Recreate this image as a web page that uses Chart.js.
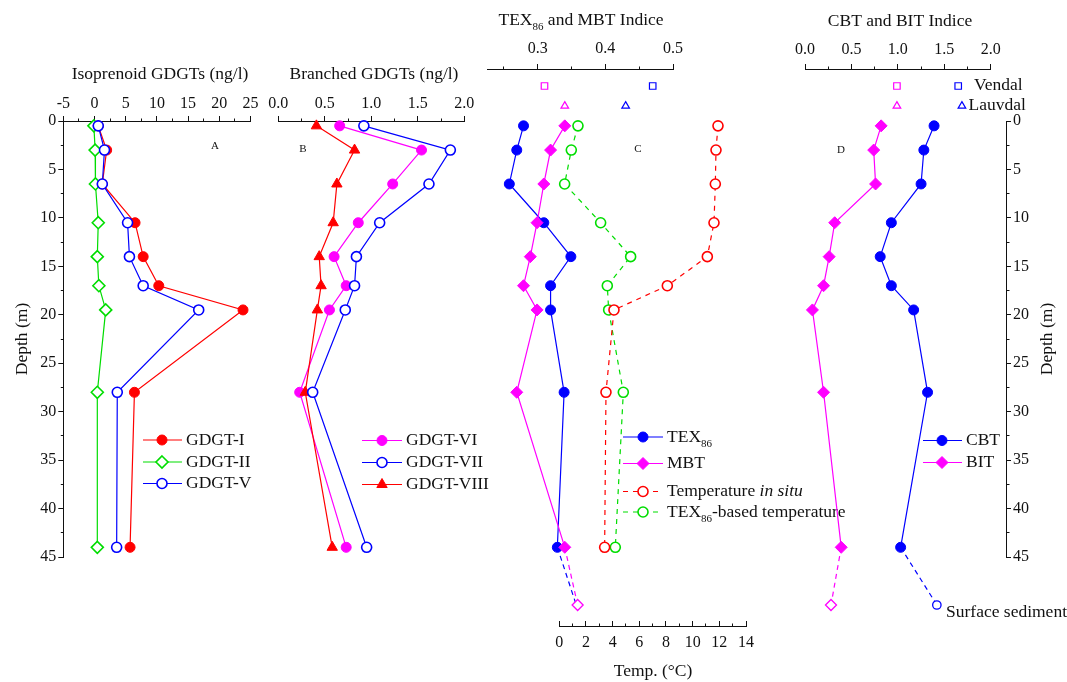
<!DOCTYPE html>
<html>
<head>
<meta charset="utf-8">
<style>
html,body{margin:0;padding:0;background:#fff;}
#wrap{position:relative;width:1067px;height:682px;overflow:hidden;background:#fff;}
#wrap canvas{position:absolute;left:0;top:0;}
</style>
<script src="https://cdn.jsdelivr.net/npm/chart.js@4.4.1/dist/chart.umd.min.js"></script>
</head>
<body>
<div id="wrap">
<canvas id="cA" width="1067" height="682"></canvas>
<canvas id="cB" width="1067" height="682"></canvas>
<canvas id="cT" width="1067" height="682"></canvas>
<canvas id="cTt" width="1067" height="682"></canvas>
<canvas id="cC" width="1067" height="682"></canvas>
<canvas id="cD" width="1067" height="682"></canvas>
<canvas id="cR" width="1067" height="682"></canvas>
</div>
<script>
// ---------------- DATA ----------------
const depth = [0.5, 3, 6.5, 10.5, 14, 17, 19.5, 28, 44];           // m
// Isoprenoid GDGTs (ng/l)
const gdgtI   = [0.6, 1.95, 1.25, 6.5, 7.8, 10.3, 23.8, 6.4, 5.7];
const gdgtII  = [-0.1, 0.1, 0.15, 0.6, 0.45, 0.7, 1.8, 0.45, 0.45];
const gdgtV   = [0.6, 1.6, 1.25, 5.3, 5.6, 7.8, 16.7, 3.65, 3.55];
// Branched GDGTs (ng/l)
const gdgtVI   = [0.66, 1.54, 1.23, 0.86, 0.60, 0.73, 0.55, 0.23, 0.73];
const gdgtVII  = [0.92, 1.85, 1.62, 1.09, 0.84, 0.82, 0.72, 0.37, 0.95];
const gdgtVIII = [0.41, 0.82, 0.63, 0.59, 0.44, 0.46, 0.42, 0.29, 0.58];
// Indices
const tex86 = [0.279, 0.269, 0.258, 0.309, 0.349, 0.319, 0.319, 0.339, 0.329];
const mbt   = [0.340, 0.319, 0.309, 0.299, 0.289, 0.279, 0.299, 0.269, 0.340];
const cbt   = [1.39, 1.28, 1.25, 0.93, 0.81, 0.93, 1.17, 1.32, 1.03];
const bit   = [0.82, 0.74, 0.76, 0.32, 0.26, 0.20, 0.08, 0.20, 0.39];
// Temperatures (°C)
const tempInSitu = [11.9, 11.75, 11.7, 11.6, 11.1, 8.1, 4.1, 3.5, 3.4];
const tempTex86  = [1.4, 0.9, 0.4, 3.1, 5.35, 3.6, 3.7, 4.8, 4.2];
// Surface sediment
const surfaceTex86 = 0.357, surfaceMbt = 0.359, surfaceCbt = 1.42, surfaceBit = 0.28;
// Reference sites
const siteNames = ['Vendal', 'Lauvdal'];
const siteTex86 = [0.47, 0.43];
const siteMbt   = [0.31, 0.34];
const siteCbt   = [1.65, 1.69];
const siteBit   = [0.99, 0.99];
// Tick labels
const isoTicks   = [-5, 0, 5, 10, 15, 20, 25];
const brTicks    = [0, 0.5, 1, 1.5, 2];
const texTicks   = [0.3, 0.4, 0.5];
const cbtTicks   = [0, 0.5, 1, 1.5, 2];
const tempTicks  = [0, 2, 4, 6, 8, 10, 12, 14];
const depthTicks = [0, 5, 10, 15, 20, 25, 30, 35, 40, 45];

// ---------------- LAYOUT / STYLE ----------------
const W = 1067, H = 682, BOX = 44;
const FONT = '"Liberation Serif","Times New Roman",serif';
const TXT = 17.5, TICK = 16;
const TOP0 = 121, BOT45 = 557, PXM = (BOT45 - TOP0) / 45;
const depthAt = px => (px - TOP0) / PXM;
const SURFACE_ROW = depthAt(605);
const SITE_ROWS = [depthAt(86), depthAt(106)];
const SITE_SHAPES = ['rect', 'triangle'];
const RED = '#ff0000', GREEN = '#00dd00', BLUE = '#0000ff', MAG = '#ff00ff', INK = '#111111';

function withMinor(major, min, max) {
  const h = (major[1] - major[0]) / 2;
  const out = major.map(v => ({value: v}));
  major.map(v => v - h).concat([major[major.length - 1] + h]).forEach(v => {
    if (v >= min - 1e-9 && v <= max + 1e-9) out.push({value: v, minor: true});
  });
  return out.sort((a, b) => a.value - b.value);
}
const boxFit = size => s => { if (s.isHorizontal()) s.height = size; else s.width = size; };

function axis(o) {
  const tks = withMinor(o.major, o.min, o.max);
  const outerFirst = o.position === 'top' || o.position === 'left';
  return {
    type: 'linear', position: o.position, min: o.min, max: o.max, reverse: !!o.reverse, bounds: 'data',
    afterBuildTicks: s => { s.ticks = tks.map(t => ({value: t.value, minor: !!t.minor})); },
    afterFit: boxFit(BOX),
    ticks: {
      autoSkip: false, maxRotation: 0, minRotation: 0, padding: o.pad, color: INK,
      font: {family: FONT, size: TICK},
      callback: (v, i, arr) => (o.noLabels || (arr[i] && arr[i].minor)) ? '' : o.fmt(v)
    },
    grid: {
      display: true, drawOnChartArea: false, drawTicks: o.drawTicks !== false,
      tickLength: 5, tickColor: INK, tickWidth: 1,
      tickBorderDash: c => (c.tick && c.tick.minor) ? [2.5, 2.5] : [],
      tickBorderDashOffset: c => (c.tick && c.tick.minor && outerFirst) ? 2.5 : 0
    },
    border: {display: true, color: INK, width: 1}
  };
}
function hiddenAxis(min, max, reverse) {
  return {type: 'linear', display: false, min, max, reverse: !!reverse, bounds: 'data', afterFit: boxFit(0)};
}

function pts(xs, ys) { return ys.map((y, i) => ({x: xs[i], y})); }
function series(label, xs, ys, color, shape, open, r, extra) {
  return Object.assign({
    label, data: pts(xs, ys), borderColor: color, backgroundColor: color, borderWidth: 1.2,
    pointStyle: shape, pointRadius: r, pointHoverRadius: r,
    pointBackgroundColor: open ? '#ffffff' : color, pointBorderColor: color,
    pointBorderWidth: open ? 1.6 : 1, tension: 0, fill: false, clip: false
  }, extra || {});
}
function tail(label, x0, y0, x1, y1, color, shape, r) {
  return {
    label, data: [{x: x0, y: y0}, {x: x1, y: y1}], borderColor: color, borderWidth: 1.2, borderDash: [5, 4],
    pointStyle: shape, pointRadius: [0, r], pointHoverRadius: [0, r],
    pointBackgroundColor: '#ffffff', pointBorderColor: color, pointBorderWidth: 1.3,
    tension: 0, fill: false, clip: false
  };
}
function sites(label, xs, colors) {
  return {
    label, data: xs.map((x, i) => ({x, y: SITE_ROWS[i]})), showLine: false,
    pointStyle: SITE_SHAPES, pointRadius: [4.6, 4.4], pointHoverRadius: [4.6, 4.4],
    pointBackgroundColor: '#ffffff', pointBorderColor: colors, pointBorderWidth: 1.2, clip: false
  };
}

// ---------- text & legend drawing ----------
function drawParts(ctx, parts, x, y, align, size, rot) {
  const fontOf = st => (st === 'it' ? 'italic ' : '') + (st === 'sub' ? Math.round(size * 0.62) : size) + 'px ' + FONT;
  let total = 0;
  const ws = parts.map(p => { ctx.font = fontOf(p[1]); const w = ctx.measureText(p[0]).width; total += w; return w; });
  ctx.save();
  ctx.translate(x, y); ctx.rotate(rot || 0);
  ctx.fillStyle = INK; ctx.textBaseline = 'middle'; ctx.textAlign = 'left';
  let cx = align === 'center' ? -total / 2 : align === 'right' ? -total : 0;
  parts.forEach((p, i) => { ctx.font = fontOf(p[1]); ctx.fillText(p[0], cx, p[1] === 'sub' ? size * 0.4 : 0); cx += ws[i]; });
  ctx.restore();
}
function drawMarker(ctx, shape, r, fill, stroke, bw, x, y) {
  ctx.save();
  ctx.beginPath();
  if (shape === 'rectRot') { ctx.moveTo(x, y - r); ctx.lineTo(x + r, y); ctx.lineTo(x, y + r); ctx.lineTo(x - r, y); ctx.closePath(); }
  else if (shape === 'triangle') { ctx.moveTo(x, y - r); ctx.lineTo(x + 0.866 * r, y + 0.5 * r); ctx.lineTo(x - 0.866 * r, y + 0.5 * r); ctx.closePath(); }
  else if (shape === 'rect') { const s = r * Math.SQRT1_2; ctx.rect(x - s, y - s, 2 * s, 2 * s); }
  else { ctx.arc(x, y, r, 0, Math.PI * 2); }
  ctx.fillStyle = fill; ctx.fill();
  ctx.lineWidth = bw; ctx.strokeStyle = stroke; ctx.setLineDash([]); ctx.stroke();
  ctx.restore();
}
function drawLegend(ctx, lg) {
  lg.rows.forEach(row => {
    const ds = row.ds;
    ctx.save();
    ctx.strokeStyle = ds.borderColor; ctx.lineWidth = ds.borderWidth;
    ctx.setLineDash(ds.borderDash || []);
    ctx.beginPath(); ctx.moveTo(lg.x1, row.y); ctx.lineTo(lg.x2, row.y); ctx.stroke();
    ctx.restore();
    drawMarker(ctx, ds.pointStyle, ds.pointRadius, ds.pointBackgroundColor, ds.pointBorderColor, ds.pointBorderWidth, lg.mx, row.y);
    drawParts(ctx, row.parts, lg.tx, row.y, 'left', TXT);
  });
}
let annotId = 0;
function annot(items) {
  return {
    id: 'annot' + (annotId++),
    afterDraw(chart) {
      const ctx = chart.ctx;
      items.forEach(it => {
        if (it.kind === 'legend') drawLegend(ctx, it);
        else drawParts(ctx, it.parts, it.x, it.y, it.align || 'center', it.size || TXT, it.rot || 0);
      });
    }
  };
}
function makeChart(id, area, scales, datasets, items) {
  const side = {left: 0, right: 0, top: 0, bottom: 0};
  Object.values(scales).forEach(s => { if (s.display !== false) side[s.position] += BOX; });
  return new Chart(document.getElementById(id), {
    type: 'line',
    data: {datasets},
    options: {
      responsive: false, animation: false, events: [],
      layout: {padding: {left: area.l - side.left, top: area.t - side.top,
                         right: W - area.r - side.right, bottom: H - area.b - side.bottom}, autoPadding: false},
      plugins: {legend: {display: false}, tooltip: {enabled: false}, title: {display: false}},
      scales
    },
    plugins: [annot(items || [])]
  });
}

const fmtInt = v => String(Math.round(v * 100) / 100);
const fmt1 = v => v.toFixed(1);

// ---------- Panel A: isoprenoid GDGTs ----------
const dsI  = series('GDGT-I', gdgtI, depth, RED, 'circle', false, 5);
const dsII = series('GDGT-II', gdgtII, depth, GREEN, 'rectRot', true, 6);
const dsV  = series('GDGT-V', gdgtV, depth, BLUE, 'circle', true, 5);
makeChart('cA', {l: 63.3, r: 250.5, t: TOP0, b: BOT45}, {
  x: axis({position: 'top', min: -5, max: 25, major: isoTicks, fmt: fmtInt, pad: 3}),
  y: axis({position: 'left', min: 0, max: 45, reverse: true, major: depthTicks, fmt: fmtInt, pad: 2})
}, [dsV, dsI, dsII], [
  {parts: [['Isoprenoid GDGTs (ng/l)']], x: 160, y: 74},
  {parts: [['Depth (m)']], x: 22, y: 339, rot: -Math.PI / 2},
  {parts: [['A']], x: 215, y: 146, size: 11},
  {kind: 'legend', x1: 143, x2: 182, mx: 162, tx: 186, rows: [
    {ds: dsI, y: 440, parts: [['GDGT-I']]},
    {ds: dsII, y: 462, parts: [['GDGT-II']]},
    {ds: dsV, y: 483.5, parts: [['GDGT-V']]}
  ]}
]);

// ---------- Panel B: branched GDGTs ----------
const dsVI   = series('GDGT-VI', gdgtVI, depth, MAG, 'circle', false, 5);
const dsVII  = series('GDGT-VII', gdgtVII, depth, BLUE, 'circle', true, 5);
const dsVIII = series('GDGT-VIII', gdgtVIII, depth, RED, 'triangle', false, 6);
makeChart('cB', {l: 278.3, r: 464.3, t: TOP0, b: BOT45}, {
  x: axis({position: 'top', min: 0, max: 2, major: brTicks, fmt: fmt1, pad: 3}),
  y: hiddenAxis(0, 45, true)
}, [dsVII, dsVIII, dsVI], [
  {parts: [['Branched GDGTs (ng/l)']], x: 374, y: 74},
  {parts: [['B']], x: 303, y: 149, size: 11},
  {kind: 'legend', x1: 362, x2: 402, mx: 382, tx: 406, rows: [
    {ds: dsVI, y: 440.5, parts: [['GDGT-VI']]},
    {ds: dsVII, y: 462.5, parts: [['GDGT-VII']]},
    {ds: dsVIII, y: 484.5, parts: [['GDGT-VIII']]}
  ]}
]);

// ---------- Temperature (panel C, lower axis) ----------
const T_BOTTOM = 626;
const dsTin  = series('Temperature in situ', tempInSitu, depth, RED, 'circle', true, 5, {borderDash: [5, 5]});
const dsTtex = series('TEX86-based temperature', tempTex86, depth, GREEN, 'circle', true, 5, {borderDash: [5, 5]});
makeChart('cT', {l: 559.3, r: 746, t: TOP0, b: T_BOTTOM}, {
  x: axis({position: 'bottom', min: 0, max: 14, major: tempTicks, fmt: fmtInt, pad: 7, drawTicks: false}),
  y: hiddenAxis(0, depthAt(T_BOTTOM), true)
}, [dsTin, dsTtex], [
  {parts: [['Temp. (°C)']], x: 653, y: 671}
]);
// inward tick marks of the temperature axis
makeChart('cTt', {l: 559.3, r: 746, t: T_BOTTOM, b: T_BOTTOM + 14}, {
  x: axis({position: 'top', min: 0, max: 14, major: tempTicks, fmt: fmtInt, pad: 0, noLabels: true}),
  y: hiddenAxis(0, 1, false)
}, [], []);

// ---------- Panel C: TEX86 and MBT ----------
const C_BOTTOM = 625;
const dsTex = series('TEX86', tex86, depth, BLUE, 'circle', false, 5);
const dsMbt = series('MBT', mbt, depth, MAG, 'rectRot', false, 6);
makeChart('cC', {l: 487, r: 673, t: 69, b: C_BOTTOM}, {
  x: axis({position: 'top', min: 0.225, max: 0.5, major: texTicks, fmt: fmt1, pad: 6}),
  y: hiddenAxis(depthAt(69), depthAt(C_BOTTOM), true)
}, [
  dsMbt, dsTex,
  tail('MBT surface', mbt[8], depth[8], surfaceMbt, SURFACE_ROW, MAG, 'rectRot', 5.5),
  tail('TEX86 surface', tex86[8], depth[8], surfaceTex86, SURFACE_ROW, BLUE, 'circle', 0),
  sites('MBT sites', siteMbt, [MAG, MAG]),
  sites('TEX86 sites', siteTex86, [BLUE, BLUE])
], [
  {parts: [['TEX'], ['86', 'sub'], [' and MBT Indice']], x: 581, y: 20},
  {parts: [['C']], x: 638, y: 149, size: 11},
  {kind: 'legend', x1: 623, x2: 663, mx: 643, tx: 667, rows: [
    {ds: dsTex, y: 437, parts: [['TEX'], ['86', 'sub']]},
    {ds: dsMbt, y: 463.5, parts: [['MBT']]},
    {ds: dsTin, y: 491.5, parts: [['Temperature '], ['in situ', 'it']]},
    {ds: dsTtex, y: 512, parts: [['TEX'], ['86', 'sub'], ['-based temperature']]}
  ]}
]);

// ---------- Panel D: CBT and BIT ----------
const dsCbt = series('CBT', cbt, depth, BLUE, 'circle', false, 5);
const dsBit = series('BIT', bit, depth, MAG, 'rectRot', false, 6);
makeChart('cD', {l: 805, r: 990.7, t: 69, b: C_BOTTOM}, {
  x: axis({position: 'top', min: 0, max: 2, major: cbtTicks, fmt: fmt1, pad: 5}),
  y: hiddenAxis(depthAt(69), depthAt(C_BOTTOM), true)
}, [
  dsBit, dsCbt,
  tail('BIT surface', bit[8], depth[8], surfaceBit, SURFACE_ROW, MAG, 'rectRot', 5.5),
  tail('CBT surface', cbt[8], depth[8], surfaceCbt, SURFACE_ROW, BLUE, 'circle', 4.2),
  sites('BIT sites', siteBit, [MAG, MAG]),
  sites('CBT sites', siteCbt, [BLUE, BLUE])
], [
  {parts: [['CBT and BIT Indice']], x: 900, y: 21},
  {parts: [['D']], x: 841, y: 150, size: 11},
  {parts: [[siteNames[0]]], x: 974, y: 85, align: 'left'},
  {parts: [[siteNames[1]]], x: 968.5, y: 105, align: 'left'},
  {parts: [['Surface sediment']], x: 946, y: 612, align: 'left'},
  {kind: 'legend', x1: 923, x2: 962, mx: 942, tx: 966, rows: [
    {ds: dsCbt, y: 440.5, parts: [['CBT']]},
    {ds: dsBit, y: 462.5, parts: [['BIT']]}
  ]}
]);

// ---------- Right depth axis ----------
makeChart('cR', {l: 1000, r: 1006, t: TOP0, b: BOT45}, {
  x: hiddenAxis(0, 1, false),
  y: axis({position: 'right', min: 0, max: 45, reverse: true, major: depthTicks, fmt: fmtInt, pad: 2})
}, [], [
  {parts: [['Depth (m)']], x: 1047, y: 339, rot: -Math.PI / 2}
]);
</script>
</body>
</html>
